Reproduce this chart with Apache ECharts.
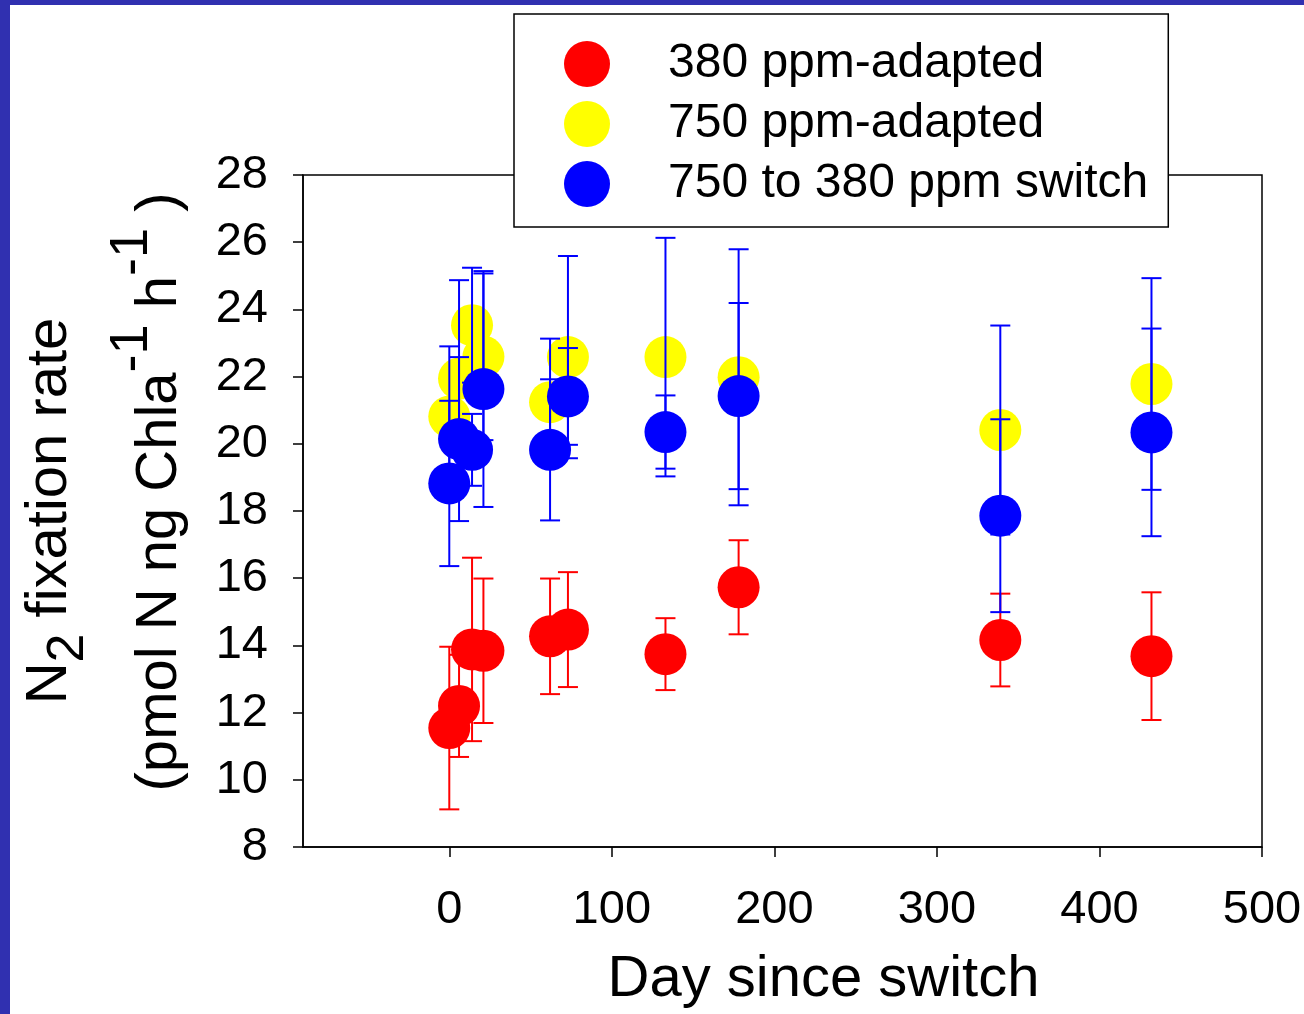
<!DOCTYPE html>
<html>
<head>
<meta charset="utf-8">
<script src="https://cdn.jsdelivr.net/npm/echarts@6/dist/echarts.min.js"></script>
<style>
html,body{margin:0;padding:0;background:#fff;}
#chart{width:1304px;height:1014px;}
</style>
</head>
<body>
<div id="chart"></div>
<script>
// ---- data ----
var days = [0, 6, 14, 21, 62, 73, 133, 178, 339, 432];
var seriesNames = ['380 ppm-adapted', '750 ppm-adapted', '750 to 380 ppm switch'];
var red = [11.54, 12.20, 13.88, 13.84, 14.27, 14.47, 13.74, 15.73, 14.16, 13.68];
var redErr = [2.42, 1.52, 2.73, 2.15, 1.72, 1.71, 1.07, 1.40, 1.38, 1.90];
var yellow = [20.81, 21.94, 23.53, 22.59, 21.24, 22.58, 22.58, 21.98, 20.41, 21.78];
var yellowErr = [2.09, 2.93, 1.71, 2.48, 1.89, 3.01, 3.55, 3.81, 3.11, 3.15];
var blue = [18.82, 20.14, 19.82, 21.63, 19.82, 21.41, 20.35, 21.42, 17.86, 20.34];
var blueErr = [2.46, 2.44, 1.07, 3.51, 2.10, 1.44, 1.09, 2.77, 2.87, 3.09];
var xTicks = [0, 100, 200, 300, 400, 500];

var FONT = '"Liberation Sans", Arial, sans-serif';

function pts(vals) { return days.map(function (d, i) { return [d, vals[i]]; }); }
function errs(vals, e) { return days.map(function (d, i) { return [d, vals[i] - e[i], vals[i] + e[i]]; }); }

function errRender(color, lw) {
  return function (params, api) {
    var x = api.value(0), lo = api.value(1), hi = api.value(2);
    var a = api.coord([x, lo]), b = api.coord([x, hi]);
    var h = 10;
    var st = { stroke: color, lineWidth: lw };
    return {
      type: 'group',
      children: [
        { type: 'line', shape: { x1: a[0], y1: a[1], x2: b[0], y2: b[1] }, style: st },
        { type: 'line', shape: { x1: a[0] - h, y1: a[1], x2: a[0] + h, y2: a[1] }, style: st },
        { type: 'line', shape: { x1: b[0] - h, y1: b[1], x2: b[0] + h, y2: b[1] }, style: st }
      ]
    };
  };
}

var chart = echarts.init(document.getElementById('chart'));
chart.setOption({
  animation: false,
  backgroundColor: '#ffffff',
  graphic: [
    { type: 'rect', left: 0, top: 0, shape: { width: 10, height: 1014 }, style: { fill: '#3030B0' }, z: 100 },
    { type: 'rect', left: 0, top: 0, shape: { width: 1304, height: 5 }, style: { fill: '#3030B0' }, z: 100 }
  ],
  grid: {
    left: 303, right: 42, top: 175, bottom: 167,
    outerBoundsMode: 'none', containLabel: false,
    show: true, borderColor: '#000', borderWidth: 1.5, backgroundColor: 'transparent'
  },
  legend: {
    orient: 'vertical',
    left: 514, top: 14,
    itemWidth: 46, itemHeight: 46, itemGap: 12,
    padding: [26, 20, 19, 50],
    backgroundColor: '#fff', borderColor: '#000', borderWidth: 1.5,
    icon: 'circle',
    data: seriesNames,
    textStyle: { fontFamily: FONT, fontSize: 48, color: '#000', padding: [0, 0, 0, 53] },
    z: 50
  },
  xAxis: {
    type: 'value', min: -90, max: 500,
    name: 'Day since switch', nameLocation: 'middle', nameGap: 104,
    nameTextStyle: { fontFamily: FONT, fontSize: 58, color: '#000', padding: [0, 0, 0, 82] },
    axisLine: { show: true, onZero: false, lineStyle: { color: '#000', width: 1.5 } },
    axisTick: { show: true, inside: false, length: 10, lineStyle: { color: '#000', width: 1.5 }, customValues: xTicks },
    axisLabel: { fontFamily: FONT, fontSize: 47, color: '#000', margin: 40, customValues: xTicks },
    splitLine: { show: false }
  },
  yAxis: {
    type: 'value', min: 8, max: 28, interval: 2,
    name: '{n|N}{sub|2}{n| fixation rate}\n{n1|(pmol N ng Chla}{sup|-1}{n| h}{sup|-1}{n| )}',
    nameLocation: 'middle', nameRotate: 90, nameGap: 88, nameMoveOverlap: false,
    nameTextStyle: {
      fontFamily: FONT, fontSize: 58, color: '#000', lineHeight: 110,
      rich: {
        n: { fontFamily: FONT, fontSize: 58, color: '#000', lineHeight: 110 },
        n1: { fontFamily: FONT, fontSize: 58, color: '#000', lineHeight: 110, padding: [0, 0, 0, 38] },
        sub: { fontFamily: FONT, fontSize: 52, color: '#000', height: 72, verticalAlign: 'bottom' },
        sup: { fontFamily: FONT, fontSize: 54, color: '#000', height: 54, verticalAlign: 'top' }
      }
    },
    axisLine: { show: true, onZero: false, lineStyle: { color: '#000', width: 1.5 } },
    axisTick: { show: true, inside: false, length: 10, lineStyle: { color: '#000', width: 1.5 } },
    axisLabel: { fontFamily: FONT, fontSize: 47, color: '#000', margin: 35 },
    splitLine: { show: false }
  },
  series: [
    { type: 'custom', name: 'err380', renderItem: errRender('#FF0000', 2), data: errs(red, redErr), encode: { x: 0, y: [1, 2] }, z: 2, silent: true },
    { type: 'scatter', name: seriesNames[0], data: pts(red), symbol: 'circle', symbolSize: 42, itemStyle: { color: '#FF0000', opacity: 1 }, z: 3 },
    { type: 'scatter', name: seriesNames[1], data: pts(yellow), symbol: 'circle', symbolSize: 42, itemStyle: { color: '#FFFF00', opacity: 1 }, z: 4 },
    { type: 'custom', name: 'err750', renderItem: errRender('#0000FF', 2), data: errs(yellow, yellowErr), encode: { x: 0, y: [1, 2] }, z: 5, silent: true },
    { type: 'custom', name: 'errSwitch', renderItem: errRender('#0000FF', 2), data: errs(blue, blueErr), encode: { x: 0, y: [1, 2] }, z: 6, silent: true },
    { type: 'scatter', name: seriesNames[2], data: pts(blue), symbol: 'circle', symbolSize: 42, itemStyle: { color: '#0000FF', opacity: 1 }, z: 7 }
  ]
});
</script>
</body>
</html>
